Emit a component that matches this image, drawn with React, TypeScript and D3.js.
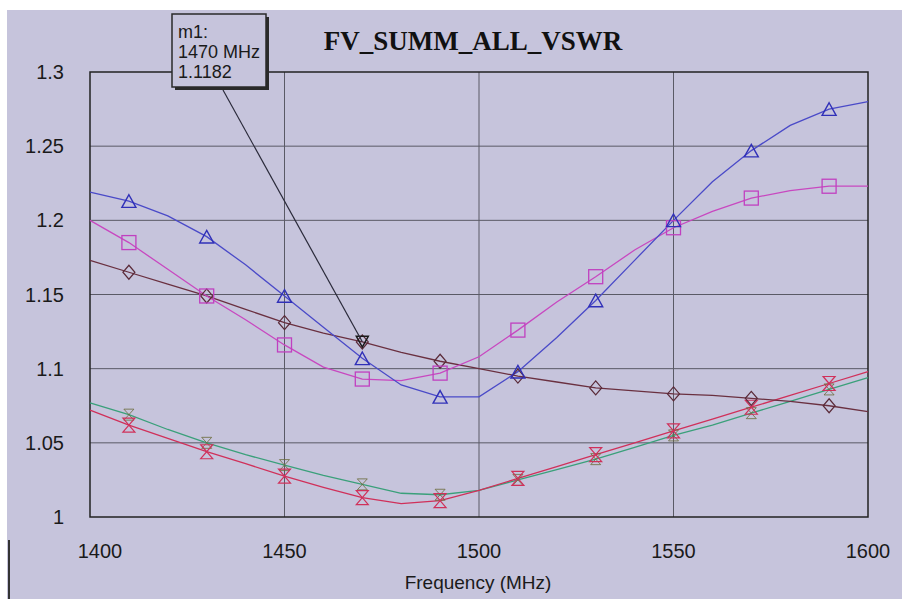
import React from "react";
import * as d3 from "d3";

const freqs = [1400,1410,1420,1430,1440,1450,1460,1470,1480,1490,1500,1510,1520,1530,1540,1550,1560,1570,1580,1590,1600];
const blueTri = [1.219,1.213,1.203,1.189,1.170,1.149,1.128,1.107,1.089,1.081,1.081,1.098,1.121,1.146,1.173,1.200,1.226,1.247,1.264,1.275,1.280];
const magentaSq = [1.200,1.185,1.167,1.149,1.133,1.116,1.101,1.093,1.092,1.097,1.108,1.126,1.145,1.162,1.180,1.195,1.206,1.215,1.220,1.223,1.223];
const brownDia = [1.173,1.165,1.157,1.149,1.140,1.131,1.124,1.118,1.111,1.105,1.100,1.095,1.091,1.087,1.085,1.083,1.082,1.080,1.078,1.075,1.071];
const redHg = [1.072,1.062,1.053,1.044,1.036,1.0275,1.020,1.013,1.009,1.011,1.018,1.026,1.034,1.042,1.050,1.058,1.066,1.074,1.082,1.090,1.098];
const greenHg = [1.077,1.069,1.059,1.050,1.042,1.035,1.028,1.022,1.016,1.015,1.018,1.025,1.032,1.039,1.047,1.055,1.062,1.070,1.078,1.086,1.094];
const markerFreqs = [1410,1430,1450,1470,1490,1510,1530,1550,1570,1590];
const xTicks = [1400,1450,1500,1550,1600];
const yTicks = [1,1.05,1.1,1.15,1.2,1.25,1.3];
const yTickLabels = ["1","1.05","1.1","1.15","1.2","1.25","1.3"];
const titleText = "FV_SUMM_ALL_VSWR";
const xAxisTitle = "Frequency (MHz)";
const m1Freq = 1470;
const m1Value = 1.1182;
const m1Lines = ["m1:", "1470 MHz", "1.1182"];

const W = 902, H = 599;
const L = 90, R = 868, T = 72, B = 517;

export default function App() {
  const x = d3.scaleLinear().domain([1400, 1600]).range([L, R]);
  const y = d3.scaleLinear().domain([1, 1.3]).range([B, T]);
  const line = (vals: number[]) =>
    d3.line<number>().x((_, i) => x(freqs[i])).y((v) => y(v)).curve(d3.curveLinear)(vals) || "";
  const valAt = (vals: number[], f: number) => vals[freqs.indexOf(f)];

  const tri = (cx: number, cy: number, s: number, up: boolean) => {
    const h = s * 0.9;
    return up
      ? `M${cx},${cy - h / 2}L${cx + s / 2},${cy + h / 2}L${cx - s / 2},${cy + h / 2}Z`
      : `M${cx},${cy + h / 2}L${cx + s / 2},${cy - h / 2}L${cx - s / 2},${cy - h / 2}Z`;
  };
  const hourglass = (cx: number, cy: number, w: number, h: number) =>
    `M${cx - w / 2},${cy - h / 2}L${cx + w / 2},${cy - h / 2}L${cx - w / 2},${cy + h / 2}L${cx + w / 2},${cy + h / 2}Z`;

  const series = [
    { vals: greenHg, color: "#3aa07a", mk: "hg2", mkColor: "#6a6a3a" },
    { vals: redHg, color: "#d0305a", mk: "hg", mkColor: "#d0305a" },
    { vals: brownDia, color: "#6a3040", mk: "dia", mkColor: "#5a2a38" },
    { vals: magentaSq, color: "#c848c0", mk: "sq", mkColor: "#c040c0" },
    { vals: blueTri, color: "#4a4ac8", mk: "tri", mkColor: "#3030b8" },
  ];

  const mx = x(m1Freq), my = y(m1Value);

  return (
    <svg width={W} height={H} style={{ position: "fixed", left: 0, top: 0 }} xmlns="http://www.w3.org/2000/svg">
      <rect x={0} y={0} width={W} height={H} fill="#ffffff" />
      <rect x={7} y={10} width={W - 7} height={H - 10} fill="#c6c4dc" />
      <line x1={9} y1={540} x2={9} y2={H} stroke="#333" strokeWidth={2} />

      {/* grid */}
      {yTicks.slice(1, -1).map((t) => (
        <line key={"gy" + t} x1={L} x2={R} y1={y(t)} y2={y(t)} stroke="#5a5a66" strokeWidth={1} />
      ))}
      {xTicks.slice(1, -1).map((t) => (
        <line key={"gx" + t} x1={x(t)} x2={x(t)} y1={T} y2={B} stroke="#5a5a66" strokeWidth={1} />
      ))}
      <rect x={L} y={T} width={R - L} height={B - T} fill="none" stroke="#222" strokeWidth={1.5} />

      {/* tick labels */}
      {yTicks.map((t, i) => (
        <text key={"yl" + t} x={64} y={y(t)} dy="0.35em" textAnchor="end" fontFamily="Liberation Sans, Arial, sans-serif" fontSize={20} fill="#1a1a1a">
          {yTickLabels[i]}
        </text>
      ))}
      {xTicks.map((t) => (
        <text key={"xl" + t} x={x(t) + (t === 1400 ? 10 : 0)} y={551} dy="0.35em" textAnchor="middle" fontFamily="Liberation Sans, Arial, sans-serif" fontSize={20} fill="#1a1a1a">
          {t}
        </text>
      ))}
      <text x={478} y={582} dy="0.35em" textAnchor="middle" fontFamily="Liberation Sans, Arial, sans-serif" fontSize={19} fill="#1a1a1a">
        {xAxisTitle}
      </text>
      <text x={473} y={50} textAnchor="middle" fontFamily="Liberation Serif, Times New Roman, serif" fontWeight="bold" fontSize={27} fill="#111">
        {titleText}
      </text>

      {/* series */}
      {series.map((s, si) => (
        <path key={"p" + si} d={line(s.vals)} fill="none" stroke={s.color} strokeWidth={1.3} />
      ))}
      {series.map((s, si) =>
        markerFreqs.map((f) => {
          const cx = x(f), cy = y(valAt(s.vals, f));
          if (s.mk === "tri") return <path key={si + "-" + f} d={tri(cx, cy, 14, true)} fill="none" stroke={s.mkColor} strokeWidth={1.4} />;
          if (s.mk === "sq") return <rect key={si + "-" + f} x={cx - 7} y={cy - 7} width={14} height={14} fill="none" stroke={s.mkColor} strokeWidth={1.3} />;
          if (s.mk === "dia") return <path key={si + "-" + f} d={`M${cx},${cy - 7}L${cx + 6},${cy}L${cx},${cy + 7}L${cx - 6},${cy}Z`} fill="none" stroke={s.mkColor} strokeWidth={1.2} />;
          if (s.mk === "hg2") return <path key={si + "-" + f} d={hourglass(cx, cy, 10, 11)} fill="none" stroke={s.mkColor} strokeWidth={1} opacity={0.8} />;
          return <path key={si + "-" + f} d={hourglass(cx, cy, 12, 14)} fill="none" stroke={s.mkColor} strokeWidth={1.2} />;
        })
      )}

      {/* marker m1 */}
      <path d={tri(mx, my, 12, false)} fill="none" stroke="#1a1a1a" strokeWidth={1.5} />
      <line x1={223} y1={90} x2={mx} y2={my} stroke="#2a2a3a" strokeWidth={1.2} />
      <rect x={175} y={17} width={94} height={73} fill="#2a2a2a" />
      <rect x={172} y={14} width={94} height={73} fill="#c6c4dc" stroke="#2a2a2a" strokeWidth={1.5} />
      {m1Lines.map((t, i) => (
        <text key={"m" + i} x={178} y={32 + i * 20} dy="0.35em" fontFamily="Liberation Sans, Arial, sans-serif" fontSize={18} fill="#1a1a1a">
          {t}
        </text>
      ))}
    </svg>
  );
}
